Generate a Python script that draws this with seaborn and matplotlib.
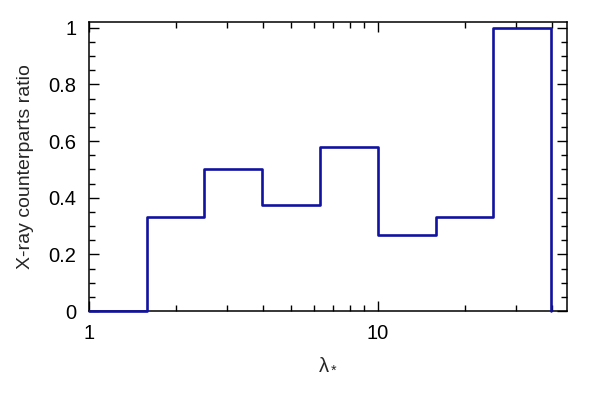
import numpy as np
import pandas as pd
import matplotlib
matplotlib.use("Agg")
import matplotlib.pyplot as plt
import matplotlib.ticker as ticker
import seaborn as sns

# ── Data: bin edges (lambda_*) and X-ray counterpart ratio per bin ───────────
bin_edges = [1.0, 1.585, 2.512, 3.981, 6.310, 10.0, 15.85, 25.12, 39.81]
ratio     = [0.0, 0.333, 0.5, 0.375, 0.58, 0.267, 0.333, 1.0]

sns.set_theme(style="white")
plt.rcParams["font.family"] = ["Liberation Sans", "DejaVu Sans"]
plt.rcParams["mathtext.fontset"] = "custom"
plt.rcParams["mathtext.rm"] = "Liberation Sans"
plt.rcParams["mathtext.it"] = "Liberation Sans"

# step line: last edge drops back to zero
df = pd.DataFrame({"lam": bin_edges, "ratio": ratio + [0.0]})

fig, ax = plt.subplots(figsize=(6, 4), dpi=100)
fig.subplots_adjust(left=0.148, right=0.945, bottom=0.222, top=0.945)

sns.lineplot(data=df, x="lam", y="ratio", estimator=None, sort=False,
             drawstyle="steps-post", color="#1212a0", linewidth=1.9, ax=ax)
# keep the zero-level segment visible on top of the bottom spine
ax.lines[0].set_zorder(5)
ax.lines[0].set_clip_on(False)

ax.set_xscale("log")
ax.set_xlim(1, 45.2)
ax.set_ylim(0, 1.02)

ax.xaxis.set_major_locator(ticker.FixedLocator([1, 10]))
ax.xaxis.set_major_formatter(ticker.FixedFormatter(["1", "10"]))
ax.xaxis.set_minor_locator(ticker.LogLocator(base=10, subs=np.arange(2, 10)))
ax.xaxis.set_minor_formatter(ticker.NullFormatter())
ax.yaxis.set_major_locator(ticker.MultipleLocator(0.2))
ax.yaxis.set_minor_locator(ticker.MultipleLocator(0.05))
ax.yaxis.set_major_formatter(ticker.FuncFormatter(lambda v, p: f"{v:g}"))

ax.tick_params(which="both", direction="in", top=True, right=True,
               bottom=True, left=True, colors="black", labelsize=14.5)
ax.tick_params(which="major", length=7, width=1, pad=9)
ax.tick_params(which="minor", length=4, width=1)

for s in ax.spines.values():
    s.set_color("black")
    s.set_linewidth(1.1)

ax.set_xlabel("λ$_*$", fontsize=14.5, labelpad=8)
ax.set_ylabel("X-ray counterparts ratio", fontsize=14, labelpad=10)

plt.savefig("out.png", dpi=100)
plt.close()
